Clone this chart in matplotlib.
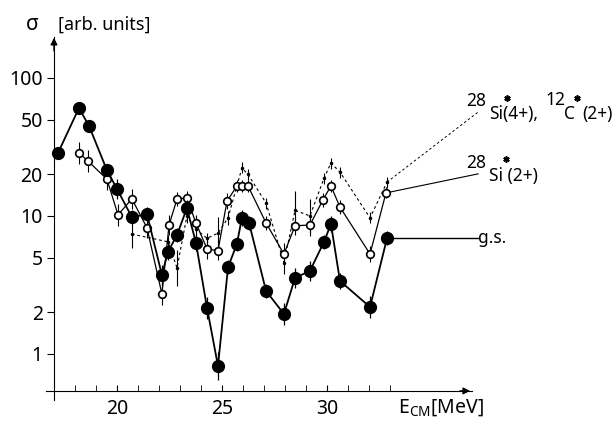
import numpy as np
import matplotlib.pyplot as plt
from matplotlib.lines import Line2D
from matplotlib.ticker import FixedLocator, NullFormatter

plt.rcParams['font.family'] = ['Noto Sans', 'DejaVu Sans']
plt.rcParams['mathtext.fontset'] = 'custom'
plt.rcParams['mathtext.rm'] = 'Noto Sans'

# ground state (filled circles)
gs_e = [17.19, 18.19, 18.67, 19.52, 20.0, 20.71, 21.43, 22.14, 22.43, 22.86, 23.33, 23.76,
        24.29, 24.81, 25.29, 25.71, 25.95, 26.29, 27.1, 27.95, 28.48, 29.19, 29.86, 30.19,
        30.62, 32.05, 32.86]
gs_sig = [28.6, 60.6, 44.9, 21.5, 15.7, 9.8, 10.3, 3.74, 5.5, 7.3, 11.4, 6.4,
          2.15, 0.82, 4.27, 6.26, 9.7, 8.9, 2.86, 1.95, 3.56, 4.0, 6.5, 8.75,
          3.38, 2.19, 6.9]
# half length of error bars in decades
gs_err = [0.0, 0.0, 0.0, 0.04, 0.07, 0.05, 0.05, 0.07, 0.06, 0.05, 0.06, 0.06,
          0.08, 0.1, 0.05, 0.05, 0.06, 0.05, 0.05, 0.08, 0.07, 0.07, 0.05, 0.06,
          0.06, 0.08, 0.05]

# 28Si*(2+) (open circles)
si2_e = [18.19, 18.62, 19.52, 20.05, 20.71, 21.43, 22.14, 22.48, 22.86, 23.33, 23.76, 24.29,
         24.81, 25.24, 25.71, 25.95, 26.24, 27.1, 27.95, 28.48, 29.19, 29.81, 30.19, 30.62,
         32.05, 32.81]
si2_sig = [28.6, 25.0, 18.5, 10.2, 13.3, 8.2, 2.72, 8.6, 13.3, 13.5, 8.9, 5.77,
           5.6, 12.8, 16.5, 16.5, 16.5, 8.9, 5.3, 8.5, 8.6, 13.1, 16.5, 11.6,
           5.3, 14.7]
si2_err = [0.08, 0.08, 0.08, 0.08, 0.07, 0.07, 0.08, 0.07, 0.05, 0.05, 0.06, 0.07,
           0.07, 0.06, 0.04, 0.04, 0.04, 0.05, 0.08, 0.07, 0.08, 0.05, 0.04, 0.05,
           0.06, 0.04]

# 28Si*(4+), 12C*(2+) (dashed)
si4_e = [20.71, 22.43, 22.86, 23.33, 23.76, 24.29, 24.81, 25.29, 25.95, 26.24, 27.1, 27.95,
         28.48, 29.19, 29.86, 30.19, 30.62, 32.05, 32.86]
si4_sig = [7.4, 6.5, 4.2, 10.0, 8.0, 6.9, 7.5, 9.7, 22.3, 20.0, 12.4, 4.6,
           11.0, 10.0, 18.8, 24.2, 20.8, 9.7, 17.6]
si4_err = [0.1, 0.05, 0.13, 0.05, 0.05, 0.04, 0.12, 0.05, 0.04, 0.04, 0.04, 0.08,
           0.14, 0.12, 0.04, 0.04, 0.04, 0.04, 0.04]

x_major = [20, 25, 30]
y_major = [1, 2, 5, 10, 20, 50, 100]


def yerr(sig, dec):
    sig = np.array(sig)
    dec = np.array(dec)
    return [sig - sig * 10 ** (-dec), sig * 10 ** dec - sig]


def ptext(x, y, s, **kw):
    # place text by pixel position (from top left)
    fig.text(x / 616, 1 - y / 425, s, **kw)


def pstar(x, y):
    # the excited-state asterisk, drawn as a marker
    fig.add_artist(Line2D([x / 616], [1 - y / 425], transform=fig.transFigure,
                          marker=(6, 2, 0), ms=4.5, mew=1.2, color='k'))


fig = plt.figure(figsize=(6.16, 4.25), dpi=100)
ax = fig.add_axes([0.074, 0.0588, 0.692, 0.854])
ax.set_yscale('log')
ax.set_xlim(16.6, 36.9)
ax.set_ylim(0.464, 198)

# dashed series
ax.errorbar(si4_e, si4_sig, yerr=yerr(si4_sig, si4_err), fmt='.', ms=3, color='k',
            elinewidth=0.8, capsize=0, zorder=2)
ax.plot(si4_e, si4_sig, color='k', lw=0.8, ls=(0, (2.5, 2.5)), zorder=2)

# open circles
ax.errorbar(si2_e, si2_sig, yerr=yerr(si2_sig, si2_err), fmt='none', ecolor='k',
            elinewidth=0.8, capsize=0, zorder=3)
ax.plot(si2_e, si2_sig, color='k', lw=0.9, marker='o', ms=5.5, mfc='white', mec='k',
        mew=1.2, zorder=4)

# filled circles
ax.errorbar(gs_e, gs_sig, yerr=yerr(gs_sig, gs_err), fmt='none', ecolor='k',
            elinewidth=0.9, capsize=0, zorder=5)
ax.plot(gs_e, gs_sig, color='k', lw=1.3, marker='o', ms=8.5, mfc='k', mec='k', zorder=6)

# leader lines to the labels
ax.plot([gs_e[-1], 37.2], [gs_sig[-1], gs_sig[-1]], color='k', lw=1.0, clip_on=False)
ax.plot([si2_e[-1], 37.2], [si2_sig[-1], 20.2], color='k', lw=0.8, clip_on=False)
ax.plot([si4_e[-1], 37.2], [si4_sig[-1], 56.7], color='k', lw=0.7, ls=(0, (2.5, 2.5)),
        clip_on=False)

lab = dict(fontsize=12.5, va='baseline', ha='left')
ptext(478, 243, 'g.s.', **lab)
ptext(466, 168, '28', **lab)
ptext(489, 181, 'Si (2+)', **lab)
pstar(506, 159)
ptext(466, 106, '28', **lab)
ptext(489, 119, 'Si(4+),', **lab)
pstar(507, 98)
ptext(545, 105, '12', **lab)
ptext(564, 119, 'C', **lab)
pstar(577, 98)
ptext(582, 119, '(2+)', **lab)

# axes with arrows
for s in ['top', 'right']:
    ax.spines[s].set_visible(False)
ax.spines['left'].set_position(('data', 17))
ax.spines['bottom'].set_position(('data', 0.54))
ax.spines['left'].set_bounds(0.464, 198)
ax.spines['bottom'].set_bounds(16.6, 36.9)
ax.annotate('', xy=(36.95, 0.54), xytext=(36.2, 0.54), annotation_clip=False,
            arrowprops=dict(arrowstyle='-|>', color='k', lw=1, mutation_scale=10))
ax.annotate('', xy=(17, 205), xytext=(17, 150), annotation_clip=False,
            arrowprops=dict(arrowstyle='-|>', color='k', lw=1, mutation_scale=10))

ax.xaxis.set_major_locator(FixedLocator(x_major))
ax.xaxis.set_minor_locator(FixedLocator(list(range(17, 34))))
ax.set_xticklabels([str(v) for v in x_major])
ax.tick_params(axis='x', which='both', direction='in', length=4, labelsize=14, pad=6)
ax.yaxis.set_major_locator(FixedLocator(y_major))
ax.yaxis.set_minor_locator(FixedLocator([]))
ax.yaxis.set_minor_formatter(NullFormatter())
ax.set_yticklabels([str(v) for v in y_major])
ax.tick_params(axis='y', which='major', direction='out', length=5, labelsize=14, pad=3)

ptext(32, 30, 'σ', fontsize=15, ha='center', va='baseline')
ptext(58, 30, '[arb. units]', fontsize=13, ha='left', va='baseline')
ptext(398, 413, r'E$_{\mathregular{CM}}$[MeV]', fontsize=14, ha='left', va='baseline')

fig.savefig('out.png', dpi=100)
